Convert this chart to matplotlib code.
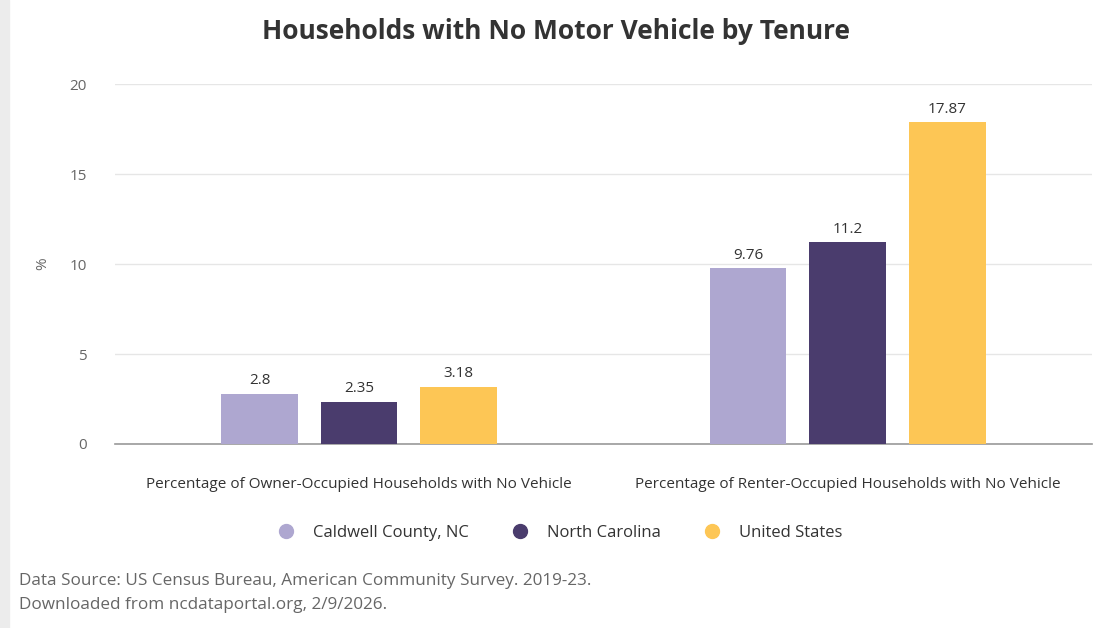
import matplotlib.pyplot as plt
import numpy as np

plt.rcParams['font.family'] = ['Open Sans', 'DejaVu Sans']

categories = ['Percentage of Owner-Occupied Households with No Vehicle',
              'Percentage of Renter-Occupied Households with No Vehicle']
series_names = ['Caldwell County, NC', 'North Carolina', 'United States']
caldwell = [2.8, 9.76]
north_carolina = [2.35, 11.2]
united_states = [3.18, 17.87]
value_labels = [['2.8', '9.76'], ['2.35', '11.2'], ['3.18', '17.87']]
colors = ['#aea7d0', '#4a3c6d', '#fdc655']

fig = plt.figure(figsize=(10.94, 6.28), dpi=100)
fig.patch.set_facecolor('white')
# light frame strip on the left like the screenshot
fig.add_artist(plt.Rectangle((0, 0), 0.008, 1, transform=fig.transFigure,
                             color='#ececec', zorder=0))

ax = fig.add_axes([0.105, 0.293, 0.893, 0.573])
x = np.arange(len(categories))
width = 0.157
step = 0.204
for i, (vals, name) in enumerate(zip([caldwell, north_carolina, united_states], series_names)):
    pos = x + (i - 1) * step
    ax.bar(pos, vals, width, color=colors[i], label=name, zorder=3)
    for p, v, t in zip(pos, vals, value_labels[i]):
        ax.text(p, v + 0.3, t, ha='center', va='bottom', fontsize=11,
                color='#333333', fontweight='medium')

ax.set_xlim(-0.5, 1.5)
ax.set_ylim(0, 20)
ax.set_yticks([0, 5, 10, 15, 20])
ax.yaxis.grid(True, color='#e6e6e6', linewidth=1, zorder=0)
ax.set_axisbelow(True)
for s in ['top', 'right', 'left']:
    ax.spines[s].set_visible(False)
ax.spines['bottom'].set_color('#999999')
ax.spines['bottom'].set_linewidth(1.2)
ax.tick_params(axis='y', length=0, labelsize=11, labelcolor='#666666', pad=20)
ax.tick_params(axis='x', length=0, labelsize=11, labelcolor='#333333', pad=24)
ax.set_xticks(x)
ax.set_xticklabels(categories)
ax.set_ylabel('%', color='#666666', fontsize=11, labelpad=14)

fig.text(0.508, 0.950, 'Households with No Motor Vehicle by Tenure', ha='center',
         va='center', fontsize=19, fontweight='bold', color='#333333')

leg = fig.legend(handles=[plt.Line2D([], [], marker='o', linestyle='', markersize=10,
                                     color=c, label=n) for c, n in zip(colors, series_names)],
                 loc='center', bbox_to_anchor=(0.508, 0.152), ncol=3, frameon=False,
                 fontsize=12, handletextpad=0.6, columnspacing=2.1)
for t in leg.get_texts():
    t.set_color('#333333')

fig.text(0.017, 0.075, 'Data Source: US Census Bureau, American Community Survey. 2019-23.',
         fontsize=12.3, color='#666666', va='center')
fig.text(0.017, 0.037, 'Downloaded from ncdataportal.org, 2/9/2026.',
         fontsize=12.3, color='#666666', va='center')

fig.savefig('out.png', dpi=100)
